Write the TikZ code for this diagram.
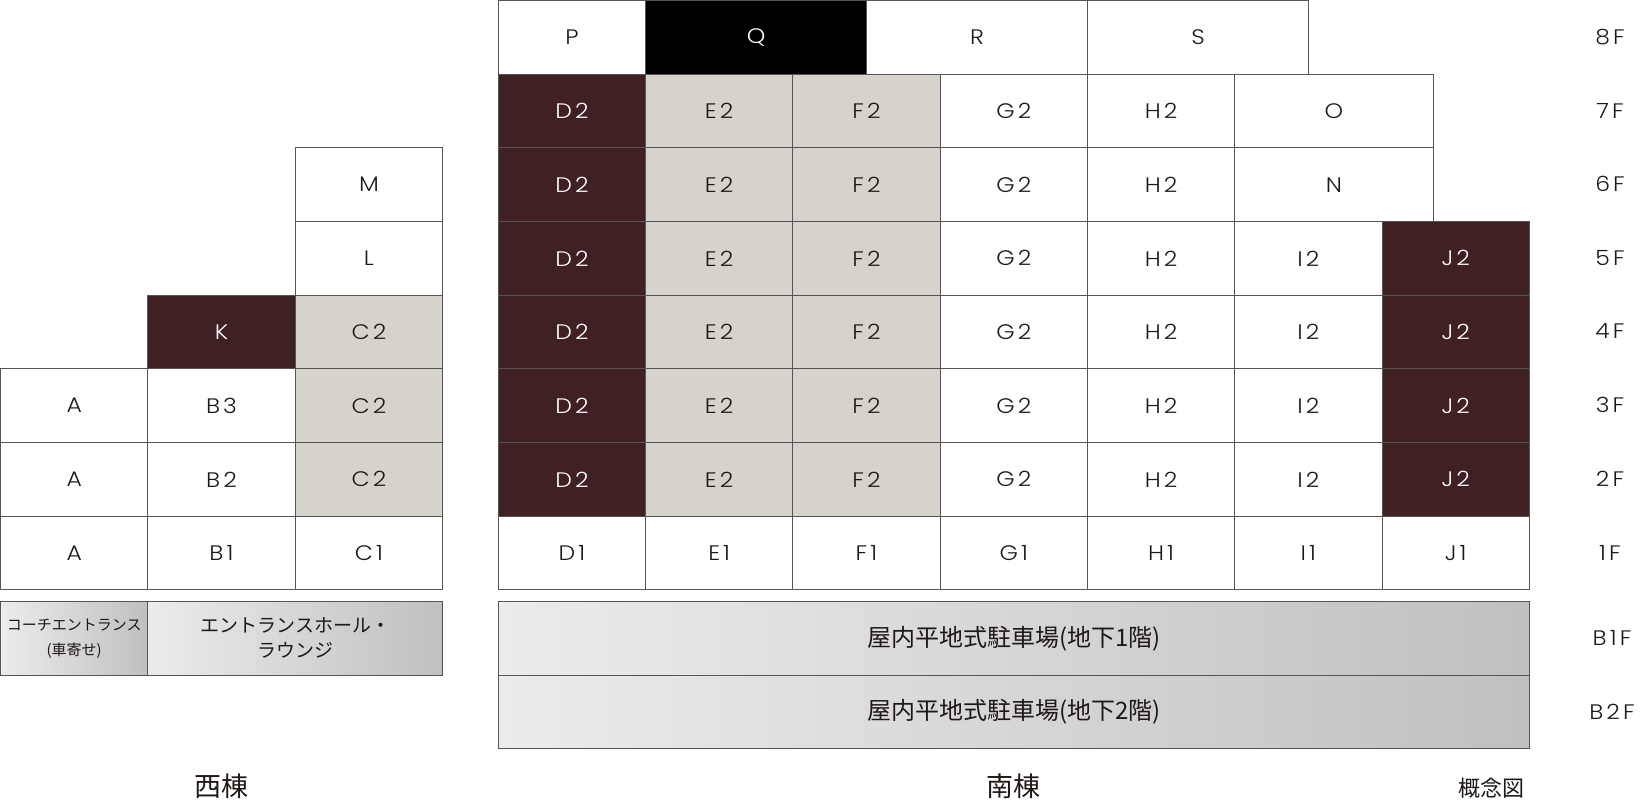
\documentclass[tikz,border=0pt]{standalone}
\usepackage{fontspec}
\newfontfamily\lat{Poppins Light}[LetterSpace=15,FakeStretch=1.12]
\newfontfamily\jp{Noto Sans CJK JP}
\definecolor{darkunit}{RGB}{63,32,35}
\definecolor{beige}{RGB}{214,210,204}
\definecolor{linegray}{RGB}{85,85,85}
\definecolor{ink}{RGB}{30,24,22}
\definecolor{shadeL}{RGB}{236,236,236}
\definecolor{shadeR}{RGB}{192,192,192}
\tikzset{
  unit/.style={draw=linegray, line width=1.1pt, inner sep=0pt, anchor=north west,
    minimum height=73.67pt, minimum width=147.3pt,
    font=\lat\fontsize{21}{24}\selectfont, text=ink},
  dk/.style={unit, fill=darkunit, text=white},
  bg/.style={unit, fill=beige},
  wh/.style={unit, fill=white},
  bk/.style={unit, fill=black, text=white},
  park/.style={draw=linegray, line width=1.1pt, left color=shadeL, right color=shadeR,
    anchor=north west, inner sep=0pt, minimum height=73.67pt, text=ink, align=center},
  floorlbl/.style={font=\lat\fontsize{21}{24}\selectfont, text=ink, anchor=center},
  wing/.style={font=\jp\fontsize{27}{30}\selectfont, text=ink}
}
\begin{document}
\begin{tikzpicture}[x=1pt,y=-1pt]
\useasboundingbox (0,0) rectangle (1640,800);
% ---- South building ----
% 8F
\node[wh] (P) at (497.7,0) {P};
\node[bk, minimum width=221pt] (Q) at (645,0) {Q};
\node[wh, minimum width=221pt] (R) at (866,0) {R};
\node[wh, minimum width=221pt] (S) at (1087,0) {S};
% 7F-2F
\foreach \r/\y in {7/73.67,6/147.33,5/221,4/294.67,3/368.33,2/442}{
  \node[dk] (D2f\r) at (497.7,\y) {D2};
  \node[bg] (E2f\r) at (645.0,\y) {E2};
  \node[bg] (F2f\r) at (792.3,\y) {F2};
  \node[wh] (G2f\r) at (939.6,\y) {G2};
  \node[wh] (H2f\r) at (1086.9,\y) {H2};
}
\node[wh, minimum width=198.3pt] (O) at (1234.2,73.67) {O};
\node[wh, minimum width=198.3pt] (N) at (1234.2,147.33) {N};
\foreach \r/\y in {5/221,4/294.67,3/368.33,2/442}{
  \node[wh] (I2f\r) at (1234.2,\y) {I2};
  \node[dk] (J2f\r) at (1381.5,\y) {J2};
}
% 1F
\node[wh] (D1) at (497.7,515.67) {D1};
\node[wh] (E1) at (645.0,515.67) {E1};
\node[wh] (F1) at (792.3,515.67) {F1};
\node[wh] (G1) at (939.6,515.67) {G1};
\node[wh] (H1) at (1086.9,515.67) {H1};
\node[wh] (I1) at (1234.2,515.67) {I1};
\node[wh] (J1) at (1381.5,515.67) {J1};
% basement
\node[park, minimum width=1031.1pt, font=\jp\fontsize{24}{26}\selectfont] (B1) at (497.7,601) {屋内平地式駐車場(地下1階)};
\node[park, minimum width=1031.1pt, font=\jp\fontsize{24}{26}\selectfont] (B2) at (497.7,674.67) {屋内平地式駐車場(地下2階)};
% ---- West building ----
\node[wh] (M) at (294.7,147.33) {M};
\node[wh] (L) at (294.7,221) {L};
\node[dk] (K) at (147.3,294.67) {K};
\node[bg] (C2a) at (294.7,294.67) {C2};
\node[wh] (A3) at (0,368.33) {A};
\node[wh] (B3) at (147.3,368.33) {B3};
\node[bg] (C2b) at (294.7,368.33) {C2};
\node[wh] (A2) at (0,442) {A};
\node[wh] (B2w) at (147.3,442) {B2};
\node[bg] (C2c) at (294.7,442) {C2};
\node[wh] (A1) at (0,515.67) {A};
\node[wh] (B1w) at (147.3,515.67) {B1};
\node[wh] (C1) at (294.7,515.67) {C1};
\node[park, minimum width=147.3pt, font=\jp\fontsize{15}{25}\selectfont] (coach) at (0,601) {コーチエントランス\\(車寄せ)};
\node[park, minimum width=294.7pt, font=\jp\fontsize{19}{25}\selectfont] (hall) at (147.3,601) {エントランスホール・\\ラウンジ};
% ---- floor labels ----
\node[floorlbl] (f8) at (1610,36.8) {8F};
\node[floorlbl] (f7) at (1610,110.5) {7F};
\node[floorlbl] (f6) at (1610,184.2) {6F};
\node[floorlbl] (f5) at (1610,257.8) {5F};
\node[floorlbl] (f4) at (1610,331.5) {4F};
\node[floorlbl] (f3) at (1610,405.2) {3F};
\node[floorlbl] (f2) at (1610,478.8) {2F};
\node[floorlbl] (f1) at (1610,552.5) {1F};
\node[floorlbl] (fb1) at (1612,637.8) {B1F};
\node[floorlbl] (fb2) at (1612,711.5) {B2F};
% ---- wing labels ----
\node[wing] (west) at (221,786) {西棟};
\node[wing] (south) at (1013,786) {南棟};
\node[font=\jp\fontsize{22}{24}\selectfont, text=ink, anchor=east] (concept) at (1528,788) {概念図};
\end{tikzpicture}
\end{document}
